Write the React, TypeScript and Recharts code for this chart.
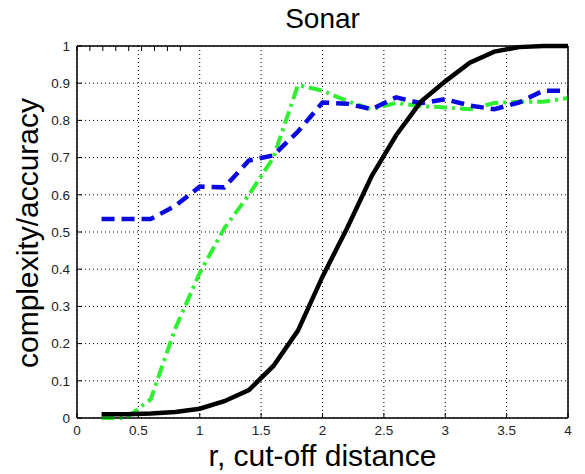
import {
  LineChart,
  Line,
  XAxis,
  YAxis,
  CartesianGrid,
  ReferenceArea,
} from 'recharts';

const rValues = [0.2, 0.4, 0.6, 0.8, 1.0, 1.2, 1.4, 1.6, 1.8, 2.0, 2.2, 2.4, 2.6, 2.8, 3.0, 3.2, 3.4, 3.6, 3.8, 4.0];
const complexity = [0.01, 0.01, 0.012, 0.016, 0.025, 0.045, 0.075, 0.14, 0.235, 0.38, 0.51, 0.65, 0.76, 0.85, 0.905, 0.955, 0.985, 0.997, 1.0, 1.0];
const accuracyA = [0.535, 0.535, 0.535, 0.57, 0.622, 0.62, 0.692, 0.706, 0.77, 0.848, 0.845, 0.83, 0.862, 0.846, 0.857, 0.84, 0.83, 0.848, 0.88, 0.88];
const accuracyB = [0.0, 0.0, 0.05, 0.24, 0.39, 0.51, 0.6, 0.7, 0.895, 0.88, 0.852, 0.83, 0.847, 0.838, 0.835, 0.83, 0.847, 0.85, 0.85, 0.86];
const xTicks = [0, 0.5, 1, 1.5, 2, 2.5, 3, 3.5, 4];
const yTicks = [0, 0.1, 0.2, 0.3, 0.4, 0.5, 0.6, 0.7, 0.8, 0.9, 1];

const FONT = '"Liberation Sans", Arial, Helvetica, sans-serif';

const chartData = rValues.map((r, i) => ({
  r,
  complexity: complexity[i],
  accA: accuracyA[i],
  accB: accuracyB[i],
}));

const tickStyle = { fill: '#222', fontSize: 13.5, fontFamily: FONT };
const noLabel = () => <g />;

export default function App() {
  return (
    <div style={{ position: 'absolute', left: 0, top: 0, width: 585, height: 474, background: '#fff' }}>
      <LineChart
        width={585}
        height={474}
        data={chartData}
        margin={{ top: 0, right: 0, bottom: 0, left: 0 }}
      >
        <CartesianGrid stroke="#000" strokeDasharray="1 3" />
        <XAxis
          dataKey="r"
          type="number"
          domain={[0, 4]}
          ticks={xTicks}
          interval={0}
          height={56}
          tickSize={-5}
          tickMargin={12}
          axisLine={{ stroke: '#000' }}
          tickLine={{ stroke: '#000' }}
          tick={tickStyle}
        />
        <XAxis
          xAxisId="top"
          orientation="top"
          type="number"
          domain={[0, 4]}
          ticks={xTicks}
          interval={0}
          height={46}
          tickSize={-5}
          axisLine={{ stroke: '#000' }}
          tickLine={{ stroke: '#000' }}
          tick={noLabel}
        />
        <YAxis
          type="number"
          domain={[0, 1]}
          ticks={yTicks}
          interval={0}
          width={77}
          tickSize={-5}
          tickMargin={12}
          axisLine={{ stroke: '#000' }}
          tickLine={{ stroke: '#000' }}
          tick={tickStyle}
        />
        <YAxis
          yAxisId="right"
          orientation="right"
          type="number"
          domain={[0, 1]}
          ticks={yTicks}
          interval={0}
          width={17}
          tickSize={-5}
          axisLine={{ stroke: '#000' }}
          tickLine={{ stroke: '#000' }}
          tick={noLabel}
        />
        <ReferenceArea x1={0} x2={4} y1={0} y2={1} fill="none" stroke="#000" strokeOpacity={1} />
        <Line
          type="linear"
          dataKey="accB"
          stroke="#2ef02e"
          strokeWidth={4}
          strokeDasharray="13 5 3 5"
          dot={false}
          isAnimationActive={false}
        />
        <Line
          type="linear"
          dataKey="accA"
          stroke="#0a0ae0"
          strokeWidth={4.5}
          strokeDasharray="13 7"
          dot={false}
          isAnimationActive={false}
        />
        <Line
          type="linear"
          dataKey="complexity"
          stroke="#000"
          strokeWidth={4.5}
          dot={false}
          isAnimationActive={false}
        />
      </LineChart>
      <div
        style={{
          position: 'absolute',
          left: 77,
          width: 491,
          top: 3,
          textAlign: 'center',
          fontFamily: FONT,
          fontSize: 28,
          lineHeight: '32px',
          color: '#000',
        }}
      >
        Sonar
      </div>
      <div
        style={{
          position: 'absolute',
          left: 77,
          width: 491,
          top: 440,
          textAlign: 'center',
          fontFamily: FONT,
          fontSize: 30,
          lineHeight: '32px',
          color: '#000',
        }}
      >
        r, cut-off distance
      </div>
      <div
        style={{
          position: 'absolute',
          left: 28 - 200,
          top: 233 - 16,
          width: 400,
          textAlign: 'center',
          transform: 'rotate(-90deg)',
          fontFamily: FONT,
          fontSize: 30,
          lineHeight: '32px',
          color: '#000',
        }}
      >
        complexity/accuracy
      </div>
    </div>
  );
}
